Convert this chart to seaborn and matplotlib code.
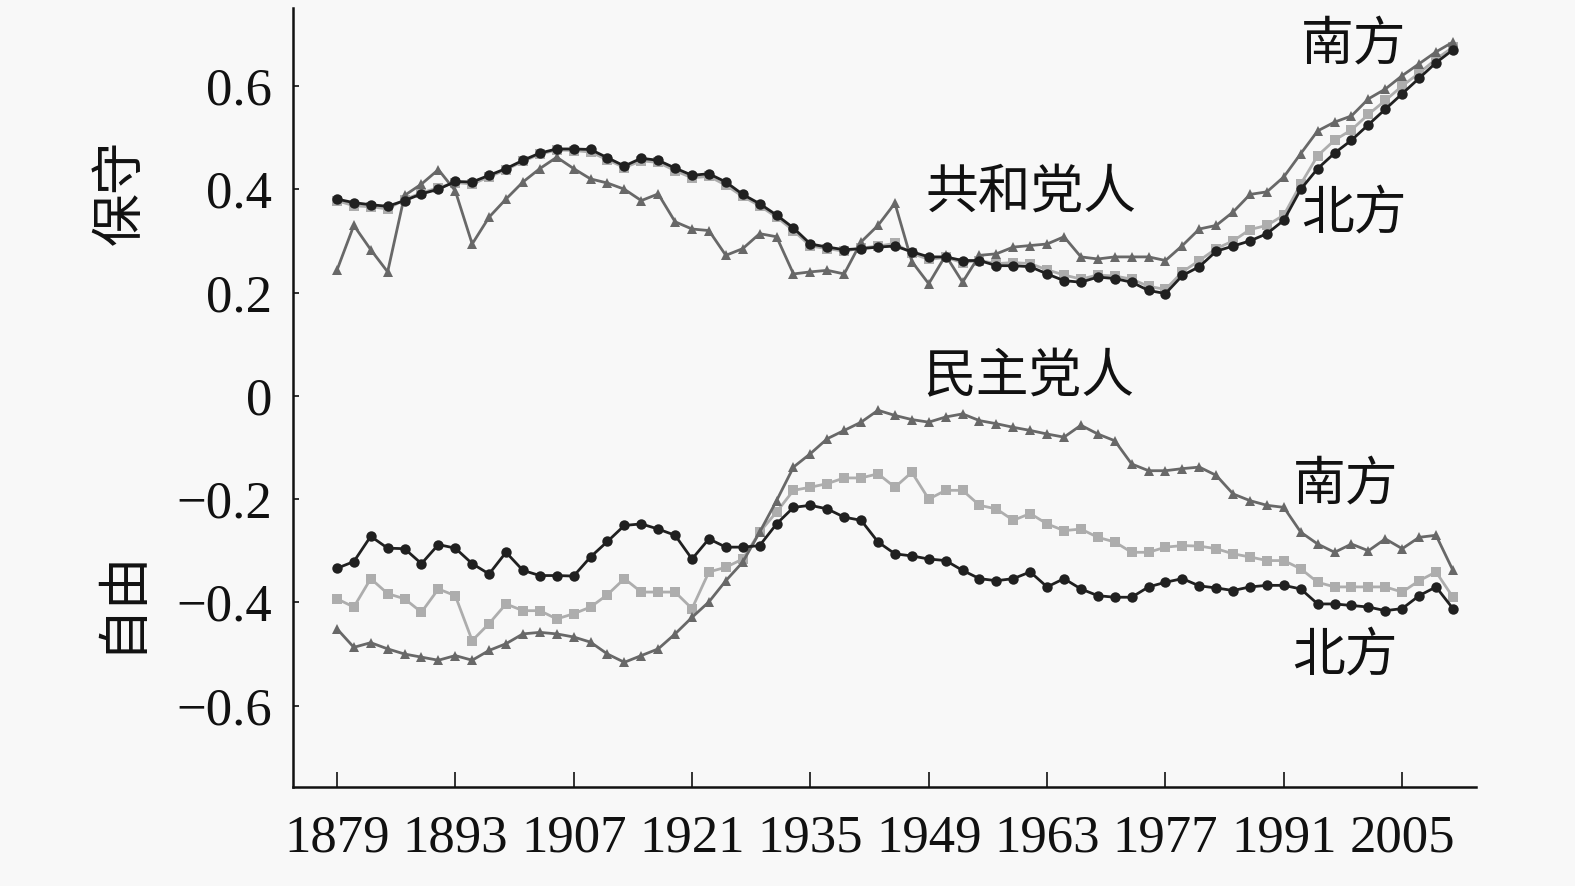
"""DW-NOMINATE style party means by region, 1879-2011."""

import matplotlib

matplotlib.use("Agg")
import matplotlib.pyplot as plt
import numpy as np
import pandas as pd
import seaborn as sns

years = list(range(1879, 2012, 2))

rep_north = [
    0.381, 0.374, 0.370, 0.367, 0.378, 0.391, 0.400, 0.415, 0.414, 0.427,
    0.440, 0.456, 0.470, 0.478, 0.478, 0.477, 0.461, 0.445, 0.460, 0.456,
    0.441, 0.427, 0.430, 0.414, 0.390, 0.372, 0.350, 0.325, 0.294, 0.288,
    0.283, 0.285, 0.288, 0.290, 0.279, 0.269, 0.269, 0.262, 0.262, 0.252,
    0.252, 0.250, 0.236, 0.223, 0.220, 0.230, 0.227, 0.220, 0.204, 0.198,
    0.233, 0.250, 0.280, 0.290, 0.300, 0.314, 0.340, 0.400, 0.440, 0.470,
    0.495, 0.525, 0.555, 0.585, 0.615, 0.645, 0.670,
]
rep_all = [
    0.378, 0.368, 0.366, 0.362, 0.380, 0.393, 0.403, 0.413, 0.410, 0.424,
    0.438, 0.454, 0.468, 0.476, 0.475, 0.472, 0.457, 0.442, 0.455, 0.452,
    0.436, 0.422, 0.425, 0.408, 0.386, 0.368, 0.346, 0.320, 0.290, 0.285,
    0.280, 0.286, 0.290, 0.295, 0.276, 0.264, 0.268, 0.258, 0.262, 0.256,
    0.258, 0.256, 0.244, 0.234, 0.226, 0.234, 0.232, 0.226, 0.212, 0.206,
    0.240, 0.262, 0.285, 0.300, 0.322, 0.330, 0.350, 0.410, 0.465, 0.495,
    0.515, 0.545, 0.572, 0.600, 0.625, 0.652, 0.675,
]
rep_south = [
    0.243, 0.330, 0.283, 0.240, 0.388, 0.410, 0.438, 0.397, 0.294, 0.346,
    0.381, 0.414, 0.440, 0.462, 0.440, 0.420, 0.412, 0.400, 0.378, 0.391,
    0.337, 0.323, 0.320, 0.272, 0.285, 0.314, 0.308, 0.236, 0.240, 0.243,
    0.236, 0.298, 0.330, 0.373, 0.260, 0.217, 0.272, 0.220, 0.272, 0.275,
    0.288, 0.291, 0.294, 0.308, 0.269, 0.265, 0.269, 0.269, 0.269, 0.262,
    0.291, 0.323, 0.330, 0.356, 0.390, 0.395, 0.424, 0.469, 0.513, 0.530,
    0.542, 0.575, 0.594, 0.620, 0.643, 0.666, 0.685,
]
dem_north = [
    -0.334, -0.321, -0.272, -0.295, -0.296, -0.325, -0.288, -0.295, -0.325, -0.345,
    -0.303, -0.338, -0.348, -0.348, -0.349, -0.312, -0.282, -0.251, -0.248, -0.258,
    -0.270, -0.316, -0.277, -0.293, -0.293, -0.290, -0.248, -0.216, -0.212, -0.219,
    -0.235, -0.241, -0.283, -0.306, -0.310, -0.316, -0.319, -0.338, -0.354, -0.358,
    -0.354, -0.341, -0.370, -0.354, -0.374, -0.387, -0.390, -0.390, -0.370, -0.361,
    -0.354, -0.368, -0.372, -0.377, -0.370, -0.367, -0.367, -0.374, -0.403, -0.403,
    -0.406, -0.409, -0.416, -0.412, -0.387, -0.370, -0.412,
]
dem_all = [
    -0.393, -0.409, -0.354, -0.383, -0.393, -0.419, -0.374, -0.387, -0.474, -0.441,
    -0.403, -0.416, -0.416, -0.432, -0.422, -0.409, -0.385, -0.354, -0.380, -0.380,
    -0.380, -0.412, -0.341, -0.332, -0.316, -0.264, -0.225, -0.183, -0.177, -0.170,
    -0.159, -0.159, -0.151, -0.177, -0.148, -0.200, -0.183, -0.183, -0.212, -0.219,
    -0.241, -0.228, -0.248, -0.261, -0.258, -0.274, -0.283, -0.303, -0.303, -0.293,
    -0.290, -0.291, -0.296, -0.306, -0.312, -0.319, -0.319, -0.335, -0.361, -0.370,
    -0.370, -0.370, -0.370, -0.380, -0.358, -0.341, -0.390,
]
dem_south = [
    -0.451, -0.487, -0.478, -0.490, -0.500, -0.506, -0.512, -0.503, -0.512, -0.493,
    -0.480, -0.461, -0.458, -0.461, -0.467, -0.477, -0.500, -0.516, -0.503, -0.490,
    -0.461, -0.429, -0.399, -0.358, -0.322, -0.264, -0.203, -0.138, -0.112, -0.083,
    -0.067, -0.051, -0.028, -0.038, -0.046, -0.051, -0.041, -0.035, -0.048, -0.054,
    -0.061, -0.067, -0.074, -0.080, -0.057, -0.074, -0.087, -0.132, -0.145, -0.145,
    -0.141, -0.138, -0.154, -0.190, -0.203, -0.212, -0.216, -0.264, -0.287, -0.303,
    -0.287, -0.300, -0.277, -0.296, -0.274, -0.270, -0.338,
]

x_ticks = [1879, 1893, 1907, 1921, 1935, 1949, 1963, 1977, 1991, 2005]
y_ticks = [-0.6, -0.4, -0.2, 0, 0.2, 0.4, 0.6]

sns.set_style("ticks")
plt.rcParams["font.family"] = ["Liberation Serif", "Noto Sans CJK SC"]
plt.rcParams["axes.unicode_minus"] = True

BG = "#f8f8f8"
CJK = ["Noto Sans CJK SC", "DejaVu Sans"]

fig = plt.figure(figsize=(15.75, 8.86), dpi=100, facecolor=BG)
ax = fig.add_axes([0.186, 0.112, 0.751, 0.879], facecolor=BG)

# light squares first, then triangles, black circles on top
styles = [
    (rep_all, "#adadad", "s", 7),
    (dem_all, "#adadad", "s", 7),
    (rep_south, "#686868", "^", 7.5),
    (dem_south, "#686868", "^", 7.5),
    (rep_north, "#202020", "o", 7.5),
    (dem_north, "#202020", "o", 7.5),
]
for values, color, marker, size in styles:
    sns.lineplot(
        x=years,
        y=values,
        ax=ax,
        color=color,
        marker=marker,
        markersize=size,
        markeredgewidth=0,
        linewidth=2.0,
    )

ax.set_xlim(1873.8, 2013.7)
ax.set_ylim(-0.757, 0.751)
ax.set_xticks(x_ticks)
ax.set_yticks(y_ticks)
ax.set_yticklabels(["\u22120.6", "\u22120.4", "\u22120.2", "0", "0.2", "0.4", "0.6"])
ax.tick_params(axis="x", direction="in", length=11, width=1.2, pad=20, labelsize=38,
               colors="#111111")
ax.tick_params(axis="y", direction="in", length=4, width=1.2, pad=15, labelsize=38,
               colors="#111111")
sns.despine(ax=ax)
for side in ("left", "bottom"):
    ax.spines[side].set_linewidth(1.8)
    ax.spines[side].set_color("#111111")

label_kw = dict(family=CJK, fontsize=38, ha="center", va="center", color="#111111")
ax.text(1961.1, 0.395, "共和党人", **label_kw)
ax.text(1960.8, 0.037, "民主党人", **label_kw)
ax.text(1999.3, 0.681, "南方", **label_kw)
ax.text(1999.3, 0.354, "北方", **label_kw)
ax.text(1998.3, -0.170, "南方", **label_kw)
ax.text(1998.2, -0.501, "北方", **label_kw)

fig.text(120 / 1575, 1 - 192 / 886, "保守", rotation=90, **label_kw)
fig.text(120 / 1575, 1 - 600 / 886, "自由", rotation=90, **label_kw)

fig.savefig("out.png", dpi=100, facecolor=BG)
plt.close(fig)
